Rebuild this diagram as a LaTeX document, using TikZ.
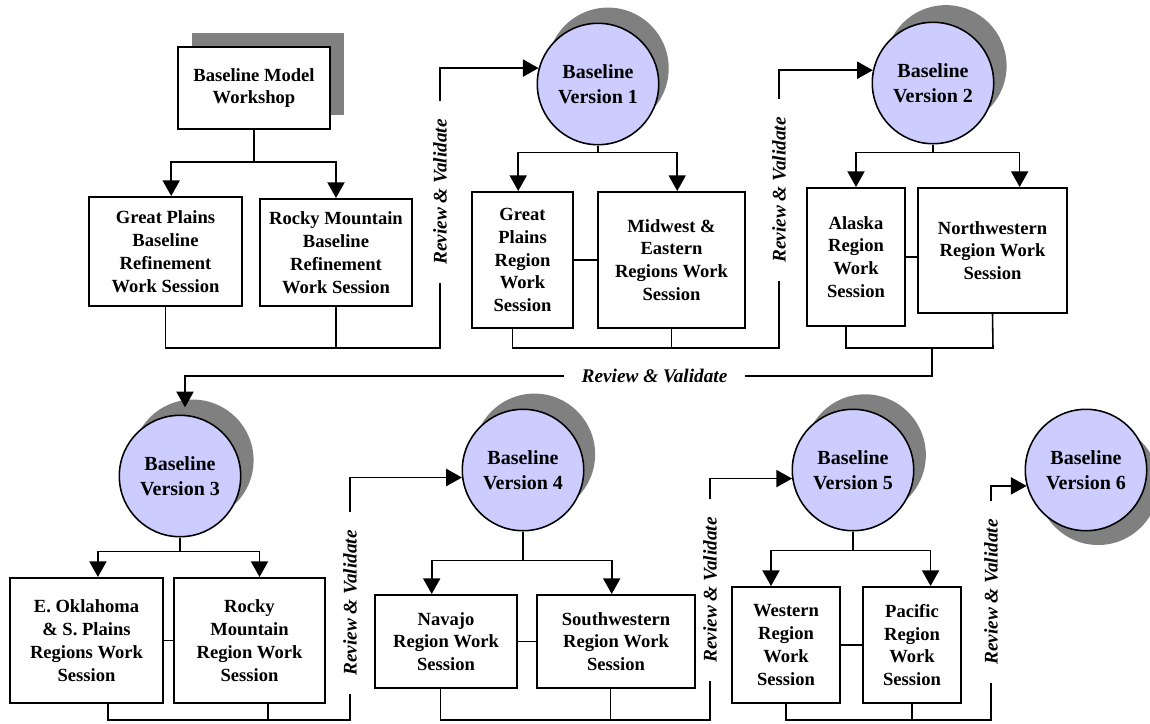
\documentclass[tikz,border=0pt]{standalone}
\usepackage{fontspec}
\setmainfont{Liberation Serif}
\usetikzlibrary{arrows.meta,shadows}
\definecolor{lav}{HTML}{CCCCFF}
\definecolor{shgray}{HTML}{808080}

\begin{document}
\begin{tikzpicture}[x=0.7pt, y=-0.7pt, line width=1.1pt,
	arr/.style={-{Triangle[width=12pt,length=11pt]}},
	box/.style={draw, line width=1.4pt, fill=white, align=center, inner sep=1pt,
		font=\fontsize{13}{16}\selectfont\bfseries},
	bsize/.style 2 args={minimum width=#1*0.7pt, minimum height=#2*0.7pt},
	vers/.style={circle, draw, fill=lav, minimum size=85pt, inner sep=0pt, align=center,
		font=\fontsize{14}{17.5}\selectfont\bfseries},
	vsh/.style 2 args={drop shadow={shadow xshift=#1, shadow yshift=#2, fill=shgray, opacity=1}},
	rv/.style={inner xsep=12pt, inner ysep=2pt, font=\fontsize{13.5}{16}\selectfont\bfseries\itshape},
	rvv/.style={rv, rotate=90}]
	\useasboundingbox (0,0) rectangle (1150,723);

	% Row 1: workshop and versions 1, 2
	\node[box, bsize={152}{82}, vsh={10pt}{10pt}] (bmw) at (254,88) {Baseline Model\\Workshop};
	\node[box, bsize={153}{109}] (gp1) at (165.5,251.5) {Great Plains\\Baseline\\Refinement\\Work Session};
	\node[box, bsize={152}{107}] (rm1) at (336,252.5) {Rocky Mountain\\Baseline\\Refinement\\Work Session};
	\node[rvv] (rv1) at (440,192) {Review \& Validate};

	\node[vers, vsh={7pt}{11pt}] (v1) at (598,84) {Baseline\\Version 1};
	\node[box, bsize={101}{136}] (gp2) at (522.5,260) {Great\\Plains\\Region\\Work\\Session};
	\node[box, bsize={147}{136}] (mw) at (671.5,260) {Midwest \&\\Eastern\\Regions Work\\Session};
	\node[rvv] (rv2) at (779,190) {Review \& Validate};

	\node[vers, vsh={9pt}{12pt}] (v2) at (933,83) {Baseline\\Version 2};
	\node[box, bsize={98}{138}] (ak) at (856,257) {Alaska\\Region\\Work\\Session};
	\node[box, bsize={149}{125}] (nw) at (992.5,250.5) {Northwestern\\Region Work\\Session};
	\node[rv] (rvm) at (654.5,376) {Review \& Validate};

	% Row 2: versions 3 to 6
	\node[vers, vsh={9pt}{11pt}] (v3) at (180,476) {Baseline\\Version 3};
	\node[box, bsize={153}{125}] (eo) at (86.5,640.5) {E. Oklahoma\\\& S. Plains\\Regions Work\\Session};
	\node[box, bsize={151}{125}] (rm3) at (249.5,640.5) {Rocky\\Mountain\\Region Work\\Session};
	\node[rvv] (rv3) at (350,603) {Review \& Validate};

	\node[vers, vsh={8pt}{11pt}] (v4) at (523,470) {Baseline\\Version 4};
	\node[box, bsize={142}{93}] (nv) at (446,641.5) {Navajo\\Region Work\\Session};
	\node[box, bsize={158}{93}] (sw) at (616,641.5) {Southwestern\\Region Work\\Session};
	\node[rvv] (rv4) at (710,590) {Review \& Validate};

	\node[vers, vsh={8.5pt}{10.5pt}] (v5) at (853,470) {Baseline\\Version 5};
	\node[box, bsize={108}{116}] (we) at (786,645) {Western\\Region\\Work\\Session};
	\node[box, bsize={98}{116}] (pa) at (912,645) {Pacific\\Region\\Work\\Session};
	\node[rvv] (rv5) at (991,592) {Review \& Validate};

	\node[vers, vsh={8.5pt}{-10pt}] (v6) at (1086,470) {Baseline\\Version 6};

	% Corners of the joining lines
	\coordinate (b1) at (440,348);
	\coordinate (b2) at (779,348);
	\coordinate (b3) at (993,348);
	\coordinate (j2) at (932,348);
	\coordinate (b4) at (350,720);
	\coordinate (b5) at (710,720);
	\coordinate (b6) at (991,720);

	% Workshop group
	\draw (bmw.south) -- ++(0,32) coordinate (s0);
	\draw[arr] (s0) -| ([xshift=4pt]gp1.north);
	\draw[arr] (s0) -| (rm1.north);
	\draw (gp1.south) |- (b1) -- (rv1.west);
	\draw (rm1.south) -- (rm1.south |- b1);
	\draw[arr] (rv1.east) |- (v1.165);

	% Version 1 group
	\draw (v1.south) -- ++(0,7) coordinate (s1);
	\draw[arr] (s1) -| ([xshift=-3pt]gp2.north);
	\draw[arr] (s1) -| ([xshift=4pt]mw.north);
	\draw (gp2.east) -- (mw.west);
	\draw ([xshift=-7pt]gp2.south) |- (b2) -- (rv2.west);
	\draw (mw.south) -- (mw.south |- b2);
	\draw[arr] (rv2.east) |- (v2.168);

	% Version 2 group
	\draw (v2.south) -- ++(0,8) coordinate (s2);
	\draw[arr] (s2) -| (ak.north);
	\draw[arr] (s2) -| ([xshift=19pt]nw.north);
	\draw (ak.east) -- (ak.east -| nw.west);
	\draw ([xshift=-7pt]ak.south) |- (b3) -- (nw.south);
	\draw (j2) |- (rvm.east);
	\draw[arr] (rvm.west) -| ([xshift=3.5pt,yshift=5pt]v3.north);

	% Version 3 group
	\draw (v3.south) -- ++(0,14) coordinate (s3);
	\draw[arr] (s3) -| ([xshift=8pt]eo.north);
	\draw[arr] (s3) -| ([xshift=7pt]rm3.north);
	\draw (eo.east) -- (rm3.west);
	\draw ([xshift=15pt]eo.south) |- (b4) -- (rv3.west);
	\draw ([xshift=13pt]rm3.south) -- ([xshift=13pt]rm3.south |- b4);
	\draw[arr] (rv3.east) |- (v4.187);

	% Version 4 group
	\draw (v4.south) -- ++(0,29) coordinate (s4);
	\draw[arr] (s4) -| ([xshift=-10pt]nv.north);
	\draw[arr] (s4) -| ([xshift=-3pt]sw.north);
	\draw (nv.east) -- (sw.west);
	\draw ([xshift=-4pt]nv.south) |- (b5) -- (rv4.west);
	\draw ([xshift=-4pt]sw.south) -- ([xshift=-4pt]sw.south |- b5);
	\draw[arr] (rv4.east) |- (v5.188);

	% Version 5 group
	\draw (v5.south) -- ++(0,19) coordinate (s5);
	\draw[arr] (s5) -| ([xshift=-10.5pt]we.north);
	\draw[arr] (s5) -| ([xshift=13pt]pa.north);
	\draw (we.east) -- (pa.west);
	\draw (we.south) |- (b6) -- (rv5.west);
	\draw (pa.south) -- (pa.south |- b6);
	\draw[arr] (rv5.east) |- (v6.195);
\end{tikzpicture}
\end{document}
